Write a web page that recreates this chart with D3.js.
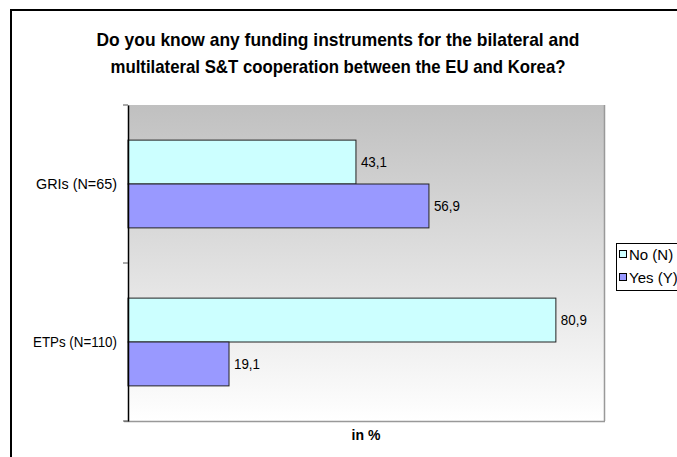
<!DOCTYPE html>
<html><head><meta charset="utf-8">
<script src="https://cdn.jsdelivr.net/npm/d3@7"></script>
<style>html,body{margin:0;padding:0;background:#fff;}svg{display:block;}</style>
</head><body>
<script>
const categories = ["GRIs (N=65)", "ETPs (N=110)"];
const seriesNames = ["No (N)", "Yes (Y)"];
const noValues = [43.1, 80.9];
const yesValues = [56.9, 19.1];
const valueLabels = [["43,1", "56,9"], ["80,9", "19,1"]];
const titleLines = ["Do you know any funding instruments for the bilateral and", "multilateral S&T cooperation between the EU and Korea?"];
const xTitle = "in %";
const colors = ["#CCFFFF", "#9999FF"];

const W = 677, H = 457;
const svg = d3.select("body").append("svg").attr("width", W).attr("height", H);
const font = "'Liberation Sans', Arial, sans-serif";

svg.append("rect").attr("x", 11).attr("y", 10).attr("width", 700).attr("height", 500)
  .attr("fill", "none").attr("stroke", "#000").attr("stroke-width", 2);

const L = 128, R = 604, T = 105, B = 421;
const defs = svg.append("defs");
const grad = defs.append("linearGradient").attr("id", "bg").attr("x1", 0).attr("y1", 0).attr("x2", 0).attr("y2", 1);
grad.append("stop").attr("offset", "0%").attr("stop-color", "#c0c0c0");
grad.append("stop").attr("offset", "100%").attr("stop-color", "#ffffff");
svg.append("rect").attr("x", L).attr("y", T).attr("width", R - L).attr("height", B - T).attr("fill", "url(#bg)");
svg.append("line").attr("x1", R + 0.5).attr("x2", R + 0.5).attr("y1", T).attr("y2", B).attr("stroke", "#999").attr("stroke-width", 1.5);

const x = d3.scaleLinear().domain([0, 90]).range([L, R]);
const y = d3.scaleBand().domain(categories).range([T, B]);
const inner = d3.scaleBand().domain(seriesNames).range([0, y.bandwidth()]).paddingOuter(0.8).paddingInner(0);

const data = categories.map((c, i) => ({ cat: c, vals: [noValues[i], yesValues[i]], labels: valueLabels[i] }));

const g = svg.append("g");
data.forEach(d => {
  d.vals.forEach((v, j) => {
    const yy = y(d.cat) + inner(seriesNames[j]);
    g.append("rect").attr("x", x(0)).attr("y", yy).attr("width", x(v) - x(0)).attr("height", inner.bandwidth())
      .attr("fill", colors[j]).attr("stroke", "#222").attr("stroke-width", 1);
    g.append("text").attr("x", x(v) + 5).attr("y", yy + inner.bandwidth() / 2 + 5)
      .attr("font-family", font).attr("font-size", 15).attr("fill", "#000")
      .attr("textLength", 26).attr("lengthAdjust", "spacingAndGlyphs").text(d.labels[j]);
  });
});

svg.append("line").attr("x1", L - 4).attr("x2", R + 1).attr("y1", B + 0.5).attr("y2", B + 0.5).attr("stroke", "#999").attr("stroke-width", 1.5);

const yAxis = d3.axisLeft(y).tickSize(0).tickPadding(11);
const ya = svg.append("g").attr("transform", `translate(${L},0)`).call(yAxis);
ya.select(".domain").attr("stroke", "#000").attr("stroke-width", 1.5);
ya.selectAll("text").attr("font-family", font).attr("font-size", 15).attr("fill", "#000").attr("dy", "0.35em")
  .attr("textLength", d => d === categories[0] ? 81 : 84).attr("lengthAdjust", "spacingAndGlyphs");
[T, y(categories[1]), B].forEach(t => {
  svg.append("line").attr("x1", L - 5).attr("x2", L).attr("y1", t).attr("y2", t).attr("stroke", "#555").attr("stroke-width", 1);
});

titleLines.forEach((t, i) => {
  svg.append("text").attr("x", 338).attr("y", 46 + i * 27).attr("text-anchor", "middle")
    .attr("font-family", font).attr("font-size", 18.5).attr("font-weight", "bold").attr("fill", "#000")
    .attr("textLength", i === 0 ? 483 : 455).attr("lengthAdjust", "spacingAndGlyphs").text(t);
});

svg.append("text").attr("x", (L + R) / 2).attr("y", 440).attr("text-anchor", "middle")
  .attr("font-family", font).attr("font-size", 14).attr("font-weight", "bold").text(xTitle);

const lg = svg.append("g");
lg.append("rect").attr("x", 616.5).attr("y", 243.5).attr("width", 100).attr("height", 47).attr("fill", "#fff").attr("stroke", "#000").attr("stroke-width", 1);
seriesNames.forEach((s, i) => {
  const yy = 255 + i * 23;
  lg.append("rect").attr("x", 619.5).attr("y", yy - 4.5).attr("width", 7).attr("height", 7).attr("fill", colors[i]).attr("stroke", "#000").attr("stroke-width", 1);
  lg.append("text").attr("x", 629).attr("y", yy + 5).attr("font-family", font).attr("font-size", 15).text(s);
});
</script>
</body></html>
